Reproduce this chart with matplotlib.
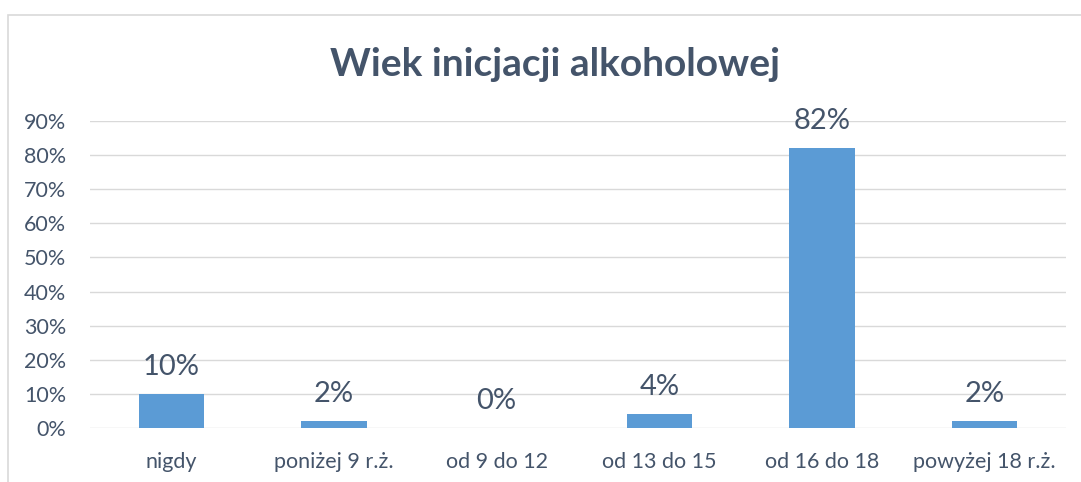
import matplotlib.pyplot as plt
import matplotlib.patches as patches
import numpy as np

categories = ['nigdy', 'poniżej 9 r.ż.', 'od 9 do 12', 'od 13 do 15', 'od 16 do 18', 'powyżej 18 r.ż.']
values = [10, 2, 0, 4, 82, 2]
labels = ['10%', '2%', '0%', '4%', '82%', '2%']
yticks = list(range(0, 100, 10))

txt = '#44546A'
plt.rcParams['font.family'] = ['Lato', 'DejaVu Sans']

fig = plt.figure(figsize=(10.81, 4.82), dpi=100)
ax = fig.add_axes([90 / 1081, 1 - 428 / 482, 976 / 1081, 307 / 482])

x = np.arange(len(categories))
ax.bar(x, values, width=0.4, color='#5B9BD5', zorder=3)
for xi, v, lab in zip(x, values, labels):
    ax.annotate(lab, (xi, v), xytext=(0, 10), textcoords='offset points',
                ha='center', va='bottom', fontsize=21, color=txt)

ax.set_xlim(-0.5, len(categories) - 0.5)
ax.set_ylim(0, 90)
ax.set_yticks(yticks)
ax.set_yticklabels([f'{t}%' for t in yticks])
ax.set_xticks(x)
ax.set_xticklabels(categories)
ax.tick_params(axis='both', length=0, labelsize=15.5, labelcolor=txt)
ax.tick_params(axis='x', pad=17)
ax.tick_params(axis='y', pad=17)
ax.grid(axis='y', color='#D9D9D9', linewidth=1, zorder=0)
for s in ax.spines.values():
    s.set_visible(False)

fig.text(555 / 1081, 1 - 65 / 482, 'Wiek inicjacji alkoholowej', ha='center', va='center',
         fontsize=28, fontweight='bold', color=txt)

border = patches.Rectangle((8 / 1081, -0.1), 1.2, 1 - 15 / 482 + 0.1, transform=fig.transFigure,
                           fill=False, edgecolor='#D9D9D9', linewidth=1.2, clip_on=False)
fig.patches.append(border)

fig.savefig('out.png', dpi=100)
